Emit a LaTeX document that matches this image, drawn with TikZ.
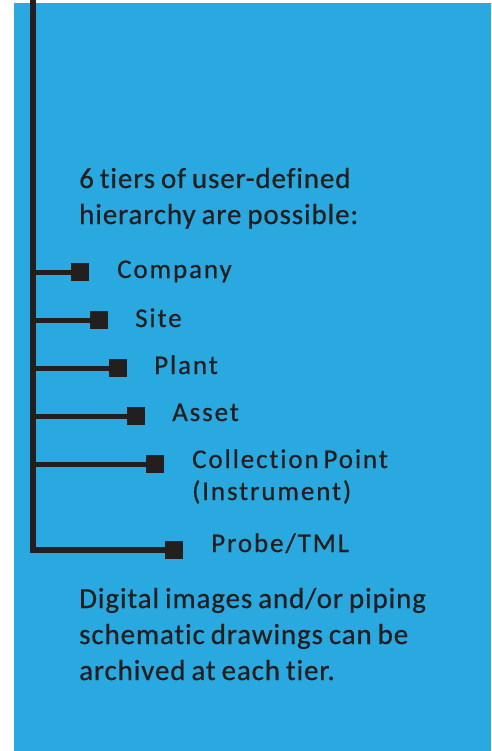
\documentclass[tikz,border=0pt]{standalone}
\usepackage{fontspec}
\setmainfont{Carlito}
\newfontfamily\parafont{Carlito}[Ligatures=NoCommon, FakeBold=0.6, LetterSpace=3, WordSpace=0.8]
\newfontfamily\lblfont{Carlito}[Ligatures=NoCommon, FakeBold=0.6, LetterSpace=7, WordSpace=0.6]
\definecolor{bg}{HTML}{29A9E0}
\definecolor{ink}{HTML}{231F20}
\tikzset{
  sq/.style={fill=ink, draw=none, minimum size=18pt, inner sep=0pt},
  trunk/.style={draw=ink, line width=5.5pt},
  tick/.style={draw=ink, line width=5pt},
  para/.style={text=ink, inner sep=0pt, anchor=base west, align=left,
    font={\parafont\fontsize{29}{36}\selectfont}},
  lbl/.style={text=ink, inner sep=0pt, anchor=base west, align=left,
    font={\lblfont\fontsize{27}{32}\selectfont}}
}
\begin{document}
\begin{tikzpicture}[x=1pt,y=-1pt]
\useasboundingbox (0,0) rectangle (491,751);
\fill[bg] (14,3) rectangle (491,751);
\coordinate (top) at (33,0);
\node[sq] (s1) at (80,272) {};
\node[sq] (s2) at (99,320) {};
\node[sq] (s3) at (118,368) {};
\node[sq] (s4) at (136,416) {};
\node[sq] (s5) at (155,464) {};
\node[sq] (s6) at (174,550) {};
\coordinate (corner) at (top |- s6);
\draw[trunk, line join=miter] (top) -- (corner) -- (s6.center);
\foreach \i in {1,...,5} { \draw[tick] (top |- s\i) -- (s\i.center); }
\foreach \i in {1,...,6} { \node[sq] at (s\i) {}; }
\node[para] (intro) at (79,224) {6 tiers of user-defined\\hierarchy are possible:};
\node[lbl] (l1) at (117,278) {Company};
\node[lbl] (l2) at (135,327) {Site};
\node[lbl] (l3) at (154,374) {Plant};
\node[lbl] (l4) at (172,421) {Asset};
\node[lbl] (l5) at (192,500) {Collection Point\\(Instrument)};
\node[lbl] (l6) at (211,552) {Probe/TML};
\node[para] (outro) at (79,680) {Digital images and/or piping\\schematic drawings can be\\archived at each tier.};
\end{tikzpicture}
\end{document}
